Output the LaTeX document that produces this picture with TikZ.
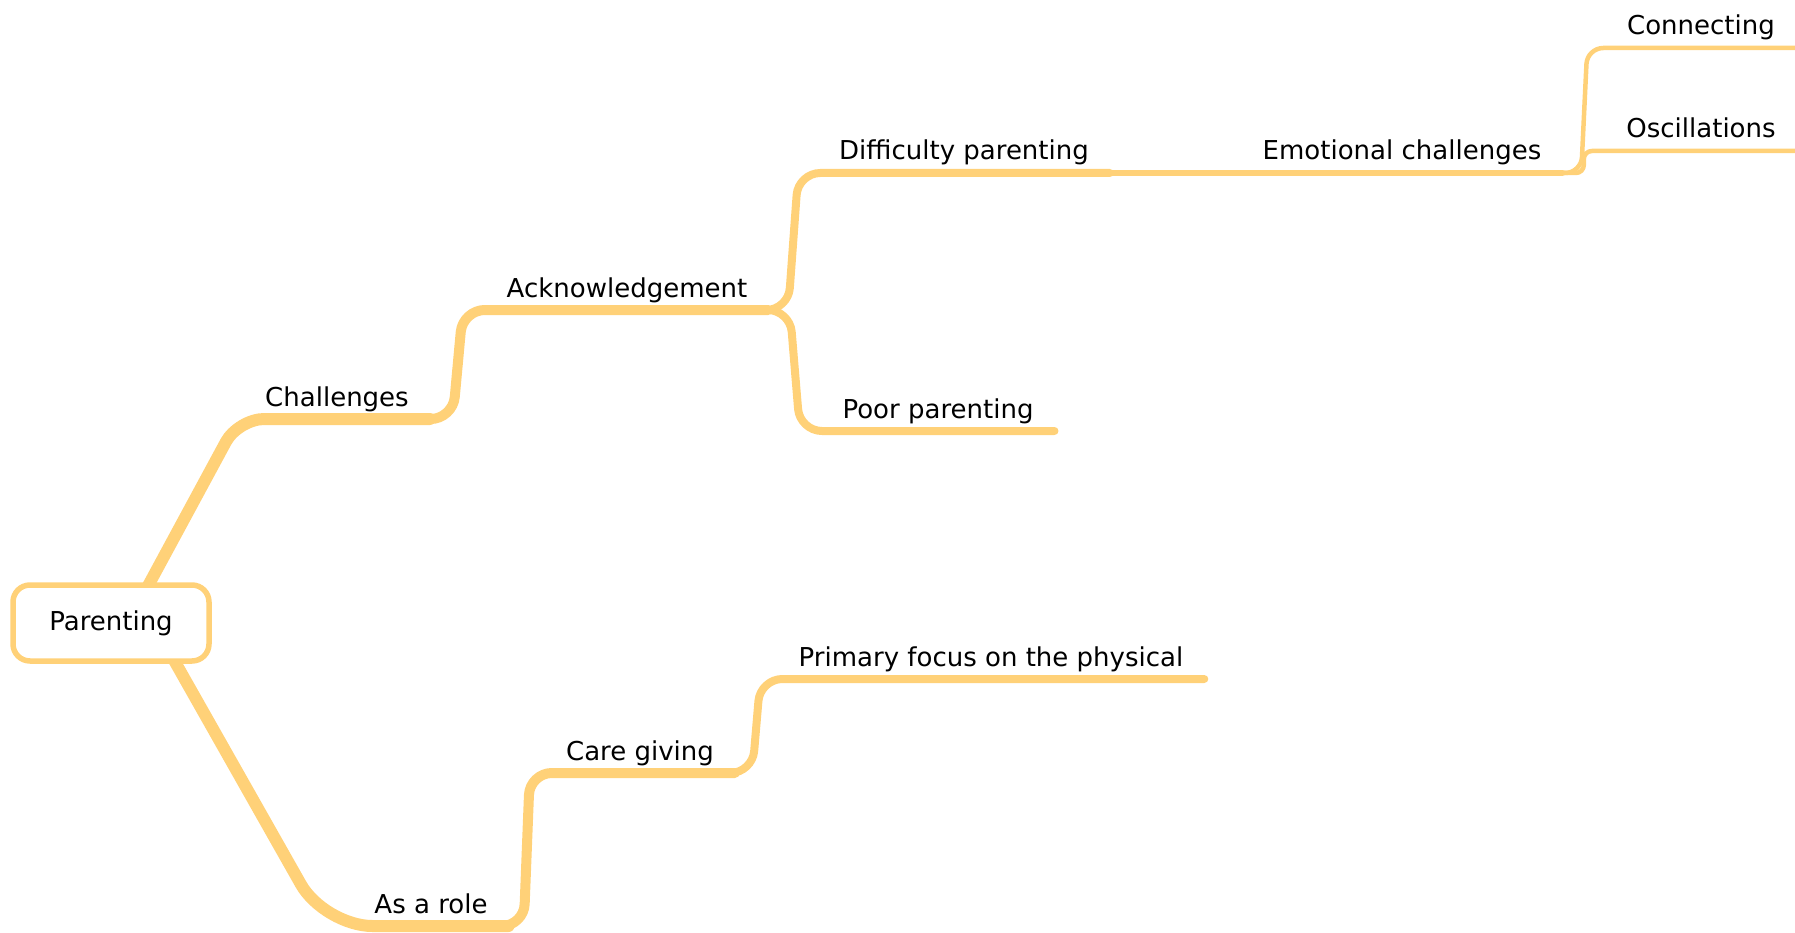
\documentclass[tikz,border=0pt]{standalone}
\usepackage{fontspec}
\setmainfont{DejaVu Sans}
\usetikzlibrary{calc,backgrounds}
\definecolor{branch}{RGB}{255,209,120}
\newcommand\sconn[4]{\draw[#1] let \p1=(#2.south east), \p2=(#3.south west) in
  (\p1) -- ({(\x1+\x2)/2-#4},\y1) -- ({(\x1+\x2)/2+#4},\y2) -- (#3.south east);}
\begin{document}
\begin{tikzpicture}[x=1pt,y=-1pt,
  lbl/.style={anchor=base, inner xsep=21pt, inner ysep=7pt, text depth=6pt,
    outer sep=0pt, font=\fontsize{26}{31}\selectfont},
  rootbox/.style={draw=branch, line width=5.5pt, rounded corners=17pt, fill=white,
    minimum width=196pt, minimum height=76pt, inner sep=0pt,
    font=\fontsize{26}{31}\selectfont},
  br/.style={draw=branch, line cap=round, line join=round, rounded corners=22pt},
  b1/.style={br, line width=12pt},
  b2/.style={br, line width=10pt},
  b3/.style={br, line width=8pt},
  b4/.style={br, line width=6.5pt},
  b5/.style={br, line width=4.5pt}]
\useasboundingbox (0,0) rectangle (1795,933);

% text nodes
\node[lbl] (chal) at (337,406) {Challenges};
\node[lbl] (ack)  at (627,297) {Acknowledgement};
\node[lbl] (diff) at (964,160) {Difficulty parenting};
\node[lbl] (poor) at (938,418) {Poor parenting};
\node[lbl] (emo)  at (1402,160) {Emotional challenges};
\node[lbl] (conn) at (1701,35) {Connecting};
\node[lbl] (osc)  at (1701,138) {Oscillations};
\node[lbl] (role) at (431,913) {As a role};
\node[lbl] (care) at (640,760) {Care giving};
\node[lbl] (prim) at (991,666) {Primary focus on the physical};

\node[rootbox] (root) at (111,623) {Parenting};
\coordinate (rt) at ($(root.center)+(17,0)$);
\coordinate (rb) at ($(root.center)+(42,0)$);

\begin{pgfonlayer}{background}
% level 5
\sconn{b5, rounded corners=16pt}{emo}{conn}{3pt}
\sconn{b5, rounded corners=8pt}{emo}{osc}{0pt}
% level 4
\draw[b4] (diff.south east) -- (emo.south east);
% level 3
\sconn{b3}{ack}{diff}{5pt}
\sconn{b3}{ack}{poor}{5pt}
\sconn{b3}{care}{prim}{4pt}
% level 2
\sconn{b2}{chal}{ack}{5pt}
\sconn{b2}{role}{care}{3pt}
% level 1
\draw[b1, rounded corners=26pt] (rt) -- ([xshift=-6pt]chal.south west) -- (chal.south east);
\draw[b1, rounded corners=48pt] (rb) -- ([xshift=-29pt]role.south west) -- (role.south east);
\end{pgfonlayer}
\end{tikzpicture}
\end{document}
